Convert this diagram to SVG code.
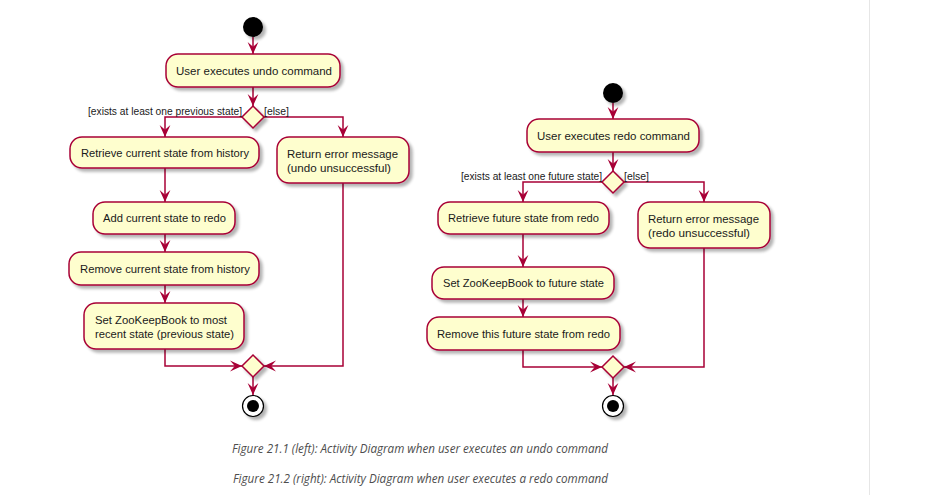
<svg xmlns="http://www.w3.org/2000/svg" width="930" height="495" viewBox="0 0 930 495">
<style>
.act{fill:#FEFECE;stroke:#A80036;stroke-width:1.5;filter:url(#sh)}
.dia{fill:#FEFECE;stroke:#A80036;stroke-width:1.5;filter:url(#sh)}
.t{font-family:"Liberation Sans",Arial,sans-serif;font-size:11.3px;fill:#1a1a1a}
.lbl{font-family:"Liberation Sans",Arial,sans-serif;font-size:10.3px;fill:#1a1a1a}
.con{fill:none;stroke:#A80036;stroke-width:1.5;marker-end:url(#ah)}
.cap{font-family:"Open Sans","DejaVu Sans",sans-serif;font-style:italic;font-size:12px;fill:#4d4d4d}
</style>
<defs>
<filter id="sh" x="-20%" y="-20%" width="150%" height="160%">
<feGaussianBlur in="SourceAlpha" stdDeviation="1.6"/>
<feOffset dx="3" dy="3" result="b"/>
<feComponentTransfer><feFuncA type="linear" slope="0.3"/></feComponentTransfer>
<feMerge><feMergeNode/><feMergeNode in="SourceGraphic"/></feMerge>
</filter>
<marker id="ah" markerUnits="userSpaceOnUse" markerWidth="12" markerHeight="12" viewBox="0 0 10 10" refX="10" refY="5" orient="auto">
<path d="M0,0.5 L10,5 L0,9.5 L4,5 Z" fill="#A80036"/>
</marker>
</defs>
<rect width="930" height="495" fill="#ffffff"/>
<line x1="869.5" y1="0" x2="869.5" y2="495" stroke="#e6e6e6" stroke-width="1"/>

<g id="connectors">
<path class="con" d="M253,37 V54"/>
<path class="con" d="M253,87 V106"/>
<path class="con" d="M242,117 H165 V137"/>
<path class="con" d="M264,117 H343 V137"/>
<path class="con" d="M165,168 V202"/>
<path class="con" d="M165,234 V252"/>
<path class="con" d="M165,285 V303"/>
<path class="con" d="M165,349 V366 H242"/>
<path class="con" d="M343,183 V366 H264"/>
<path class="con" d="M253,377 V395"/>

<path class="con" d="M613,103 V119"/>
<path class="con" d="M613,152 V171"/>
<path class="con" d="M602,182 H523 V202"/>
<path class="con" d="M624,182 H704 V202"/>
<path class="con" d="M523,234 V267"/>
<path class="con" d="M523,299 V317"/>
<path class="con" d="M523,350 V367 H602"/>
<path class="con" d="M704,248 V367 H624"/>
<path class="con" d="M613,378 V395"/>
</g>

<g id="undo-start"><circle cx="253" cy="27" r="10" fill="#000" filter="url(#sh)"/></g>
<g id="undo-user-executes"><rect class="act" x="166" y="54" width="174" height="33" rx="12"/><text class="t" x="176" y="75" textLength="156" lengthAdjust="spacingAndGlyphs">User executes undo command</text></g>
<g id="undo-decision"><polygon class="dia" points="253,106 264,117 253,128 242,117"/>
<text class="lbl" x="88" y="115" textLength="154" lengthAdjust="spacingAndGlyphs">[exists at least one previous state]</text>
<text class="lbl" x="264" y="115" textLength="25" lengthAdjust="spacingAndGlyphs">[else]</text></g>
<g id="undo-retrieve"><rect class="act" x="70" y="137" width="189" height="31" rx="12"/><text class="t" x="81" y="157" textLength="168" lengthAdjust="spacingAndGlyphs">Retrieve current state from history</text></g>
<g id="undo-error"><rect class="act" x="277" y="137" width="132" height="46" rx="12"/><text class="t" x="287" y="158" textLength="111" lengthAdjust="spacingAndGlyphs">Return error message</text><text class="t" x="287" y="172" textLength="104" lengthAdjust="spacingAndGlyphs">(undo unsuccessful)</text></g>
<g id="undo-add"><rect class="act" x="93" y="202" width="142" height="32" rx="12"/><text class="t" x="103" y="222" textLength="123" lengthAdjust="spacingAndGlyphs">Add current state to redo</text></g>
<g id="undo-remove"><rect class="act" x="69" y="252" width="190" height="33" rx="12"/><text class="t" x="80" y="273" textLength="170" lengthAdjust="spacingAndGlyphs">Remove current state from history</text></g>
<g id="undo-set"><rect class="act" x="84" y="303" width="160" height="46" rx="12"/><text class="t" x="95" y="324" textLength="132" lengthAdjust="spacingAndGlyphs">Set ZooKeepBook to most</text><text class="t" x="95" y="338" textLength="139" lengthAdjust="spacingAndGlyphs">recent state (previous state)</text></g>
<g id="undo-merge"><polygon class="dia" points="253,355 264,366 253,377 242,366"/></g>
<g id="undo-end"><circle cx="253" cy="406" r="10.5" fill="#fff" stroke="#000" stroke-width="1.2" filter="url(#sh)"/><circle cx="253" cy="406" r="6" fill="#000"/></g>

<g id="redo-start"><circle cx="613" cy="93" r="10" fill="#000" filter="url(#sh)"/></g>
<g id="redo-user-executes"><rect class="act" x="527" y="119" width="172" height="33" rx="12"/><text class="t" x="537" y="140" textLength="153" lengthAdjust="spacingAndGlyphs">User executes redo command</text></g>
<g id="redo-decision"><polygon class="dia" points="613,171 624,182 613,193 602,182"/>
<text class="lbl" x="461" y="180" textLength="141" lengthAdjust="spacingAndGlyphs">[exists at least one future state]</text>
<text class="lbl" x="624" y="180" textLength="25" lengthAdjust="spacingAndGlyphs">[else]</text></g>
<g id="redo-retrieve"><rect class="act" x="438" y="202" width="171" height="32" rx="12"/><text class="t" x="448" y="222" textLength="151" lengthAdjust="spacingAndGlyphs">Retrieve future state from redo</text></g>
<g id="redo-error"><rect class="act" x="638" y="202" width="132" height="46" rx="12"/><text class="t" x="648" y="223" textLength="111" lengthAdjust="spacingAndGlyphs">Return error message</text><text class="t" x="648" y="237" textLength="102" lengthAdjust="spacingAndGlyphs">(redo unsuccessful)</text></g>
<g id="redo-set"><rect class="act" x="432" y="267" width="182" height="32" rx="12"/><text class="t" x="443" y="287" textLength="161" lengthAdjust="spacingAndGlyphs">Set ZooKeepBook to future state</text></g>
<g id="redo-remove"><rect class="act" x="427" y="317" width="193" height="33" rx="12"/><text class="t" x="437" y="338" textLength="173" lengthAdjust="spacingAndGlyphs">Remove this future state from redo</text></g>
<g id="redo-merge"><polygon class="dia" points="613,356 624,367 613,378 602,367"/></g>
<g id="redo-end"><circle cx="613" cy="406" r="10.5" fill="#fff" stroke="#000" stroke-width="1.2" filter="url(#sh)"/><circle cx="613" cy="406" r="6" fill="#000"/></g>

<g id="captions">
<text class="cap" x="232" y="453" textLength="376" lengthAdjust="spacingAndGlyphs">Figure 21.1 (left): Activity Diagram when user executes an undo command</text>
<text class="cap" x="233" y="483" textLength="375" lengthAdjust="spacingAndGlyphs">Figure 21.2 (right): Activity Diagram when user executes a redo command</text>
</g>
</svg>
